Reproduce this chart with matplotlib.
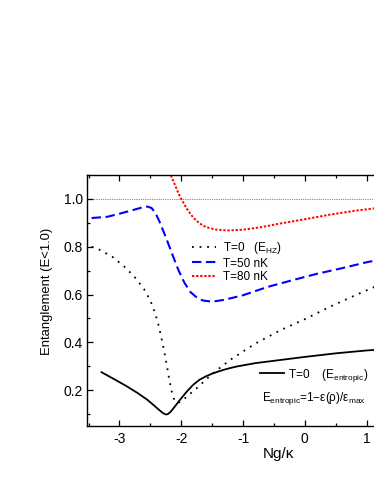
import matplotlib
matplotlib.use("Agg")
import matplotlib.pyplot as plt
from matplotlib.ticker import MultipleLocator, FormatStrFormatter

plt.rcParams['font.family'] = ['Liberation Sans', 'DejaVu Sans']
plt.rcParams['mathtext.fontset'] = 'custom'
plt.rcParams['mathtext.rm'] = 'Liberation Sans'
plt.rcParams['mathtext.it'] = 'Liberation Sans:italic'
plt.rcParams['axes.unicode_minus'] = False

# T=0, entropic entanglement (solid)
x_ent = [-3.29, -3.1, -2.9, -2.7, -2.55, -2.45, -2.37, -2.31, -2.27, -2.24, -2.21, -2.17,
         -2.12, -2.06, -2.0, -1.9, -1.8, -1.7, -1.6, -1.5, -1.4, -1.3, -1.2, -1.1, -0.8, -0.4,
         0.0, 0.5, 1.0, 1.5]
y_ent = [0.275, 0.248, 0.219, 0.187, 0.160, 0.138, 0.120, 0.107, 0.100, 0.098, 0.101, 0.110,
         0.126, 0.146, 0.166, 0.197, 0.224, 0.244, 0.258, 0.269, 0.278, 0.286, 0.293, 0.299,
         0.313, 0.326, 0.339, 0.354, 0.366, 0.375]

# T=0, E_HZ (dotted black)
x_hz = [-3.45, -3.3, -3.1, -2.9, -2.75, -2.6, -2.5, -2.42, -2.36, -2.31, -2.27, -2.23, -2.19,
        -2.15, -2.12, -2.09, -2.06, -2.0, -1.9, -1.75, -1.5, -1.2, -0.8, -0.4, 0.0, 0.4, 0.8,
        1.2, 1.5]
y_hz = [0.80, 0.785, 0.755, 0.712, 0.672, 0.622, 0.575, 0.520, 0.465, 0.405, 0.355, 0.300,
        0.238, 0.190, 0.165, 0.150, 0.146, 0.153, 0.175, 0.208, 0.268, 0.328, 0.395, 0.450,
        0.497, 0.548, 0.595, 0.640, 0.670]

# T=50 nK (dashed blue)
x_50 = [-3.45, -3.2, -3.0, -2.8, -2.65, -2.55, -2.48, -2.42, -2.36, -2.3, -2.22, -2.14, -2.05,
        -1.95, -1.85, -1.75, -1.65, -1.5, -1.3, -1.0, -0.6, -0.2, 0.2, 0.6, 1.0, 1.5]
y_50 = [0.920, 0.925, 0.938, 0.952, 0.963, 0.968, 0.962, 0.942, 0.910, 0.872, 0.820, 0.765,
        0.705, 0.650, 0.610, 0.588, 0.575, 0.570, 0.578, 0.597, 0.632, 0.660, 0.687, 0.710,
        0.735, 0.760]

# T=80 nK (short-dotted red)
x_80 = [-2.22, -2.12, -2.04, -2.0, -1.9, -1.8, -1.7, -1.6, -1.45, -1.25, -1.0, -0.7, -0.4,
        0.0, 0.4, 0.8, 1.2, 1.5]
y_80 = [1.13, 1.07, 1.02, 1.0, 0.955, 0.920, 0.897, 0.882, 0.872, 0.868, 0.871, 0.882, 0.897,
        0.915, 0.934, 0.950, 0.963, 0.975]

xticks = [-3, -2, -1, 0, 1]
yticks = [0.2, 0.4, 0.6, 0.8, 1.0]

fig = plt.figure(figsize=(3.74, 4.84), dpi=100)
W, H = 374.0, 484.0
x0, y_top, y_bot = 87.3, 175.0, 426.0
xmin, xmax = -3.52, 1.5
ppu = 61.8
wpx = (xmax - xmin) * ppu
ax = fig.add_axes([x0 / W, (H - y_bot) / H, wpx / W, (y_bot - y_top) / H])

ax.axhline(1.0, color='#888888', ls=(0, (1, 1)), lw=0.8, zorder=1)
l_hz, = ax.plot(x_hz, y_hz, color='black', ls=(0, (1, 3.2)), lw=1.3)
l_50, = ax.plot(x_50, y_50, color='#0000FF', ls=(0, (4.5, 2.2)), lw=1.5)
l_80, = ax.plot(x_80, y_80, color='#FF0000', ls=(0, (1.2, 0.9)), lw=1.4)
l_ent, = ax.plot(x_ent, y_ent, color='black', ls='-', lw=1.3)

ax.set_xlim(xmin, xmax)
ax.set_ylim(0.05, 1.1)
ax.set_xticks(xticks)
ax.set_yticks(yticks)
ax.xaxis.set_minor_locator(MultipleLocator(0.5))
ax.yaxis.set_minor_locator(MultipleLocator(0.1))
ax.yaxis.set_major_formatter(FormatStrFormatter('%.1f'))
ax.tick_params(which='both', direction='in', top=True, right=True, width=0.9)
ax.tick_params(which='major', length=4, labelsize=10)
ax.tick_params(which='minor', length=2)
ax.tick_params(axis='x', pad=4)
ax.tick_params(axis='y', pad=3)
for s in ax.spines.values():
    s.set_linewidth(1.0)

ax.set_ylabel('Entanglement (E<1.0)', fontsize=9.4)
ax.yaxis.set_label_coords(-0.112, 0.538)
ax.set_xlabel('Ng/κ', fontsize=11)
ax.xaxis.set_label_coords(0.615, -0.085)

leg1 = ax.legend([l_hz, l_50, l_80],
                 ['T=0   (E$_{\\mathrm{HZ}}$)', 'T=50 nK', 'T=80 nK'],
                 loc='center left', bbox_to_anchor=(0.3375, 0.655), frameon=False,
                 fontsize=8.5, borderpad=0, borderaxespad=0, handlelength=2.0,
                 handletextpad=0.6, labelspacing=0.15)
ax.add_artist(leg1)
ax.legend([l_ent], ['T=0    (E$_{\\mathrm{entropic}}$)'],
          loc='center left', bbox_to_anchor=(0.557, 0.203), frameon=False,
          fontsize=8.5, borderpad=0, borderaxespad=0, handlelength=2.0,
          handletextpad=0.4)
ax.text(0.563, 0.108, 'E$_{\\mathrm{entropic}}$=1$-$ε(ρ)/ε$_{\\mathrm{max}}$',
        transform=ax.transAxes, fontsize=8.5, ha='left', va='center')

fig.savefig('out.png', dpi=100)
